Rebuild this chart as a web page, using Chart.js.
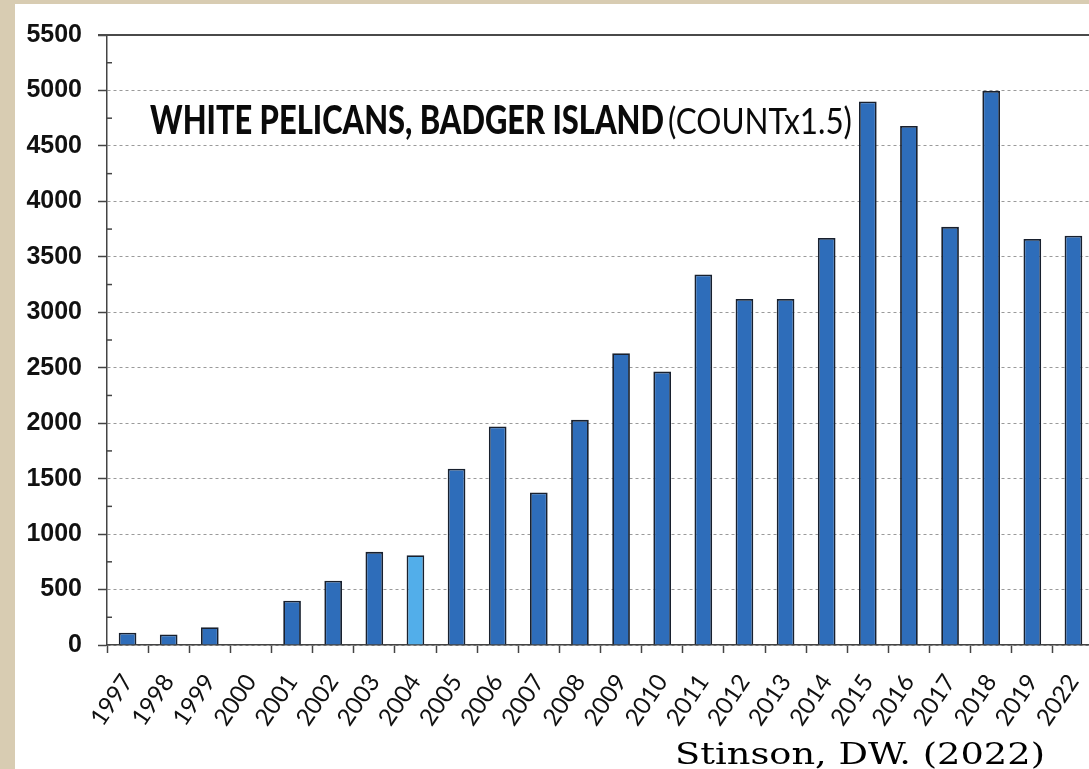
<!DOCTYPE html>
<html>
<head>
<meta charset="utf-8">
<script src="https://cdn.jsdelivr.net/npm/chart.js@4"></script>
<style>
  html, body { margin:0; padding:0; width:1089px; height:769px; overflow:hidden; background:#d8ccb2; }
  #wrap { position:absolute; left:15px; top:4px; width:1079px; height:765px; background:#ffffff; }
</style>
</head>
<body>
<div id="wrap"><canvas id="c"></canvas></div>
<script>
// ---- data ----
const years = ['1997','1998','1999','2000','2001','2002','2003','2004','2005','2006','2007','2008','2009','2010','2011','2012','2013','2014','2015','2016','2017','2018','2019','2022'];
const counts = [110, 95, 160, 0, 400, 580, 840, 810, 1590, 1970, 1375, 2030, 2630, 2465, 3340, 3120, 3120, 3670, 4900, 4680, 3770, 4995, 3660, 3690];
const highlightYears = ['2004'];
const yTickMax = 5500;
const yTickStep = 500;
const titleBold = 'WHITE PELICANS, BADGER ISLAND';
const titleRegular = '(COUNTx1.5)';
const credit = 'Stinson, DW. (2022)';

const barColor = '#2e6dba';
const hiColor = '#52aeea';

function fitText(ctx, text, font, x, y, width) {
  ctx.save();
  ctx.font = font;
  const w = ctx.measureText(text).width;
  ctx.translate(x, y);
  ctx.scale(width / w, 1);
  ctx.fillText(text, 0, 0);
  ctx.restore();
}

const decor = {
  id: 'decor',
  afterDraw(chart) {
    const ctx = chart.ctx;
    const a = chart.chartArea;
    const ys = chart.scales.y;
    const yTop = ys.getPixelForValue(yTickMax);
    ctx.save();
    ctx.strokeStyle = '#4a4a4a';
    ctx.lineWidth = 2;
    ctx.beginPath();
    ctx.moveTo(a.left - 9, yTop);
    ctx.lineTo(a.right, yTop);
    ctx.stroke();
    ctx.lineWidth = 1.5;
    ctx.strokeStyle = '#444';
    for (let v = yTickStep / 2; v < yTickMax; v += yTickStep) {
      const py = ys.getPixelForValue(v);
      ctx.beginPath();
      ctx.moveTo(a.left, py);
      ctx.lineTo(a.left + 5, py);
      ctx.stroke();
    }
    ctx.fillStyle = '#0a0a0a';
    ctx.textBaseline = 'alphabetic';
    fitText(ctx, titleBold, '900 40px Lato', 135, 130, 514);
    fitText(ctx, titleRegular, '36px Lato', 653, 130, 184);
    ctx.fillStyle = '#000';
    fitText(ctx, credit, '29px "DejaVu Serif"', 660, 760, 370);
    ctx.restore();
  }
};

new Chart(document.getElementById('c'), {
  type: 'bar',
  data: {
    labels: years,
    datasets: [{
      data: counts,
      backgroundColor: years.map(y => highlightYears.includes(y) ? hiColor : barColor),
      borderColor: '#18202e',
      borderWidth: 1.8,
      barPercentage: 0.43,
      categoryPercentage: 1.0
    }]
  },
  options: {
    responsive: true,
    maintainAspectRatio: false,
    animation: false,
    layout: { padding: { top: 29, left: 0, right: 0, bottom: 0 } },
    plugins: { legend: { display: false }, tooltip: { enabled: false }, title: { display: false } },
    scales: {
      x: {
        afterFit(s) { s.height = 124; s.paddingLeft = 0; s.paddingRight = 0; },
        grid: { drawOnChartArea: false, tickLength: 8, tickColor: '#444', tickWidth: 1.5, offset: true },
        border: { color: '#444', width: 1.5 },
        ticks: {
          color: '#111', minRotation: 56, maxRotation: 56, autoSkip: false, padding: 16,
          font: { family: 'Lato', size: 24 }
        }
      },
      y: {
        min: 0, max: yTickMax,
        afterFit(s) { s.width = 92; },
        grid: {
          color: ctx => (ctx.tick && ctx.tick.value === yTickMax) ? 'rgba(0,0,0,0)' : '#9a9a9a',
          lineWidth: 1, tickLength: 9, tickColor: '#444', tickWidth: 1.5
        },
        border: { color: '#444', width: 1.5, dash: [3, 3] },
        ticks: {
          stepSize: yTickStep, color: '#111', padding: 16,
          callback: v => String(v),
          font: { family: '"Liberation Sans Narrow", "Liberation Sans"', size: 25, weight: 'bold' }
        }
      }
    }
  },
  plugins: [decor]
});
</script>
</body>
</html>
